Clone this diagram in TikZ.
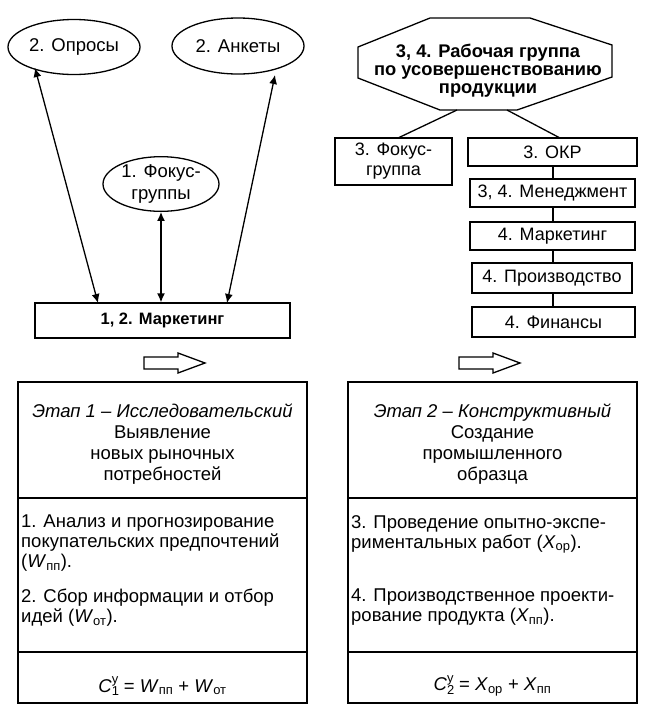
\documentclass[tikz,border=0pt]{standalone}
\usepackage{fontspec}
\setmainfont{Liberation Sans}
\usetikzlibrary{shapes.geometric,arrows.meta}
\newcommand{\subsup}[3]{\textit{#1}\rlap{\textsubscript{#2}}\raisebox{2pt}{\textsuperscript{#3}}}
\begin{document}
\begin{tikzpicture}[x=1pt,y=-1pt,
  every node/.style={font=\fontsize{18.5}{21}\selectfont, inner sep=0pt},
  oval/.style={draw, line width=1.3pt, ellipse},
  box/.style={draw, line width=1.3pt, rectangle},
  conn/.style={line width=1.3pt},
  biarrow/.style={line width=1.3pt, {Latex[length=9pt,width=8pt]}-{Latex[length=9pt,width=8pt]}},
  hollow/.style={draw, line width=1.3pt, fill=white, line join=miter}
]
\useasboundingbox (0,0) rectangle (650,716);

% left top
\node[oval, minimum width=132pt, minimum height=55pt] (op) at (74,47) {2. Опросы};
\node[oval, minimum width=132pt, minimum height=56pt] (an) at (238,46) {2. Анкеты};
\node[oval, minimum width=116pt, minimum height=54pt, align=center, font=\fontsize{18.5}{22}\selectfont] (fg) at (161,184) {1. Фокус-\\группы};
\node[box, minimum width=255pt, minimum height=35pt, font=\fontsize{16.5}{20}\selectfont\bfseries] (mk) at (162.5,320.5) {1, 2. Маркетинг};

\coordinate (mkL) at (98,303);
\coordinate (mkR) at (227,303);
\coordinate (opB) at (35,68);
\coordinate (anB) at (275,75);
\draw[biarrow] (opB) -- (mkL);
\draw[biarrow] (anB) -- (mkR);
\draw[biarrow] (fg.south) -- (fg.south |- mk.north);

% hollow arrows
\draw[hollow] (144,357) -- (178,357) -- (178,353) -- (205,363) -- (178,373) -- (178,369) -- (144,369) -- cycle;
\draw[hollow] (459,357) -- (493,357) -- (493,353) -- (520,363) -- (493,373) -- (493,369) -- (459,369) -- cycle;

% octagon
\node[align=center, font=\fontsize{18.3}{18}\selectfont\bfseries] (wg) at (488,71) {3, 4. Рабочая группа\\по усовершенствованию\\продукции};
\draw[line width=1.3pt, line join=miter] (430,18) -- (530,18) -- (612,45) -- (612,77) -- (517,110) -- (440,110) -- (358,78) -- (358,47) -- cycle;
\coordinate (wgL) at (457,110);
\coordinate (wgR) at (507,110);

\node[box, minimum width=117pt, minimum height=47pt, align=center, font=\fontsize{18}{20}\selectfont] (fg3) at (393.5,161.5) {3. Фокус-\\группа};
\node[box, minimum width=169pt, minimum height=28pt, font=\fontsize{18}{20}\selectfont] (okr) at (552.5,152) {3. ОКР};
\node[box, minimum width=165pt, minimum height=28pt, font=\fontsize{18}{20}\selectfont] (men) at (552.5,193) {3, 4. Менеджмент};
\node[box, minimum width=165pt, minimum height=28pt, font=\fontsize{18}{20}\selectfont] (mar) at (552.5,236) {4. Маркетинг};
\node[box, minimum width=160pt, minimum height=30pt, font=\fontsize{18}{20}\selectfont] (pro) at (552,278) {4. Производство};
\node[box, minimum width=163pt, minimum height=30pt, font=\fontsize{18}{20}\selectfont] (fin) at (553.5,322) {4. Финансы};

\draw[conn] (wgL) -- (398,138);
\draw[conn] (wgR) -- (560,138);
\draw[conn] (okr.south -| 553,0) -- (men.north -| 553,0);
\draw[conn] (men.south -| 553,0) -- (mar.north -| 553,0);
\draw[conn] (mar.south -| 553,0) -- (pro.north -| 553,0);
\draw[conn] (pro.south -| 553,0) -- (fin.north -| 553,0);

% bottom left panel
\node[box, minimum width=289pt, minimum height=116pt] (p1a) at (162.5,440) {};
\node[box, minimum width=289pt, minimum height=154pt] (p1b) at (162.5,575) {};
\node[box, minimum width=289pt, minimum height=51pt] (p1c) at (162.5,677.5) {};
\node[align=center] (t1) at (162.5,444) {\textit{Этап 1 – Исследовательский}\\Выявление\\новых рыночных\\потребностей};
\node[anchor=north west, align=left, font=\fontsize{18.5}{20}\selectfont] (l1) at (21,515) {1. Анализ и прогнозирование\\покупательских предпочтений\\(\textit{W}\textsubscript{пп}).};
\node[anchor=north west, align=left, font=\fontsize{18.5}{20}\selectfont] (l2) at (21,589) {2. Сбор информации и отбор\\идей (\textit{W}\textsubscript{от}).};
\node (f1) at (162.5,686) {\subsup{C}{1}{у} = \textit{W}\textsubscript{пп} + \textit{W}\textsubscript{от}};

% bottom right panel
\node[box, minimum width=289pt, minimum height=116pt] (p2a) at (492.5,440) {};
\node[box, minimum width=289pt, minimum height=154pt] (p2b) at (492.5,575) {};
\node[box, minimum width=289pt, minimum height=51pt] (p2c) at (492.5,677.5) {};
\node[align=center] (t2) at (492.5,444) {\textit{Этап 2 – Конструктивный}\\Создание\\промышленного\\образца};
\node[anchor=north west, align=left, font=\fontsize{18.5}{20}\selectfont] (r1) at (351,515) {3. Проведение опытно-экспе-\\риментальных работ (\textit{X}\textsubscript{ор}).};
\node[anchor=north west, align=left, font=\fontsize{18.5}{20}\selectfont] (r2) at (351,589) {4. Производственное проекти-\\рование продукта (\textit{X}\textsubscript{пп}).};
\node (f2) at (492.5,686) {\subsup{C}{2}{у} = \textit{X}\textsubscript{ор} + \textit{X}\textsubscript{пп}};
\end{tikzpicture}
\end{document}
